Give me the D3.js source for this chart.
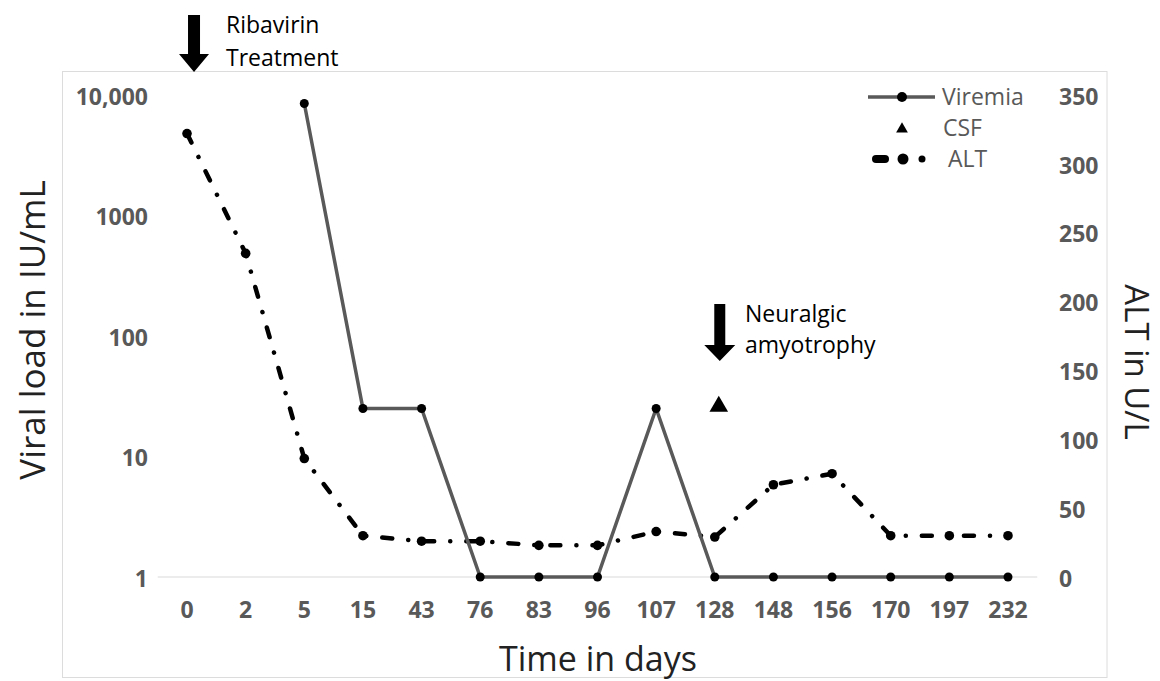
<!DOCTYPE html>
<html>
<head>
<meta charset="utf-8">
<script src="https://cdn.jsdelivr.net/npm/d3@7/dist/d3.min.js"></script>
<style>
  html, body { margin: 0; padding: 0; background: #fff; }
  svg { display: block; }
</style>
</head>
<body>
<svg id="chart" width="1160" height="681"></svg>
<script>
// ---- data ----
const days = ["0","2","5","15","43","76","83","96","107","128","148","156","170","197","232"];
const viremia = [null, null, 8500, 25, 25, 1, 1, 1, 25, 1, 1, 1, 1, 1, 1];
const csf = [null, null, null, null, null, null, null, null, null, 26, null, null, null, null, null];
const alt = [322, 235, 86, 30, 26, 26, 23, 23, 33, 29, 67, 75, 30, 30, 30];
const leftTicks = [1, 10, 100, 1000, 10000];
const leftTickLabels = ["1", "10", "100", "1000", "10,000"];
const rightTicks = [0, 50, 100, 150, 200, 250, 300, 350];

const svg = d3.select("#chart");
const tickFont = "'Open Sans', sans-serif";

// frame
svg.append("rect").attr("x", 62.5).attr("y", 71.5).attr("width", 1044.5).attr("height", 606)
  .attr("fill", "none").attr("stroke", "#dcdcdc").attr("stroke-width", 1);

const x = d3.scaleBand().domain(days).range([157.7, 1037.3]).padding(0);
const cx = d => x(d) + x.bandwidth() / 2;
const yL = d3.scaleLog().domain([1, 10000]).range([577, 95]);
const yR = d3.scaleLinear().domain([0, 350]).range([577, 95]);

// baseline gridline
svg.append("line").attr("x1", x.range()[0]).attr("x2", x.range()[1])
  .attr("y1", yL(1)).attr("y2", yL(1)).attr("stroke", "#d9d9d9").attr("stroke-width", 1.2);

// left axis
const axL = d3.axisLeft(yL).tickValues(leftTicks).tickSize(0).tickPadding(0)
  .tickFormat((d, i) => leftTickLabels[i]);
const gL = svg.append("g").attr("transform", "translate(148,0)").call(axL);
gL.select(".domain").remove();
gL.selectAll("text").attr("font-family", tickFont).attr("font-weight", "bold")
  .attr("font-size", 23).attr("fill", "#595959").attr("dy", "0.4em");

// right axis
const axR = d3.axisRight(yR).tickValues(rightTicks).tickSize(0).tickPadding(0);
const gR = svg.append("g").attr("transform", "translate(1059,0)").call(axR);
gR.select(".domain").remove();
gR.selectAll("text").attr("font-family", tickFont).attr("font-weight", "bold")
  .attr("font-size", 23).attr("fill", "#595959").attr("dy", "0.4em");

// bottom axis
const axB = d3.axisBottom(x).tickSize(0).tickPadding(0);
const gB = svg.append("g").attr("transform", "translate(0,618)").call(axB);
gB.select(".domain").remove();
gB.selectAll("text").attr("font-family", tickFont).attr("font-weight", "bold")
  .attr("font-size", 23).attr("fill", "#595959").attr("dy", 0);

// axis titles
svg.append("text").attr("transform", "translate(45,330) rotate(-90)")
  .attr("text-anchor", "middle").attr("font-family", tickFont).attr("font-size", 35)
  .attr("fill", "#222").text("Viral load in IU/mL");
svg.append("text").attr("x", 598).attr("y", 671)
  .attr("text-anchor", "middle").attr("font-family", tickFont).attr("font-size", 34)
  .attr("fill", "#222").text("Time in days");
svg.append("text").attr("transform", "translate(1125,362) rotate(90)")
  .attr("text-anchor", "middle").attr("font-family", tickFont).attr("font-size", 33)
  .attr("fill", "#222").text("ALT in U/L");

// ALT series (right axis)
const altData = days.map((d, i) => ({d, v: alt[i]}));
svg.append("path").datum(altData)
  .attr("d", d3.line().x(p => cx(p.d)).y(p => yR(p.v)))
  .attr("fill", "none").attr("stroke", "#000").attr("stroke-width", 4.5)
  .attr("stroke-linecap", "round").attr("stroke-linejoin", "round")
  .attr("stroke-dasharray", "10,16,0.1,16");
svg.append("g").selectAll("circle").data(altData).join("circle")
  .attr("cx", p => cx(p.d)).attr("cy", p => yR(p.v)).attr("r", 4.8).attr("fill", "#000");

// Viremia series (left axis)
const virData = days.map((d, i) => ({d, v: viremia[i]})).filter(p => p.v != null);
svg.append("path").datum(virData)
  .attr("d", d3.line().x(p => cx(p.d)).y(p => yL(p.v)))
  .attr("fill", "none").attr("stroke", "#595959").attr("stroke-width", 3.5)
  .attr("stroke-linejoin", "round");
svg.append("g").selectAll("circle").data(virData).join("circle")
  .attr("cx", p => cx(p.d)).attr("cy", p => yL(p.v)).attr("r", 4.5).attr("fill", "#000");

// CSF series (left axis)
const csfData = days.map((d, i) => ({d, v: csf[i]})).filter(p => p.v != null);
const tri = d3.symbol().type(d3.symbolTriangle).size(150);
svg.append("g").selectAll("path").data(csfData).join("path")
  .attr("d", tri).attr("transform", p => `translate(${cx(p.d) + 4},${yL(p.v)})`)
  .attr("fill", "#000");

// annotation arrows
function blockArrow(xc, yTop, yHeadStart, yTip, shaftW, headW) {
  const p = d3.path();
  p.moveTo(xc - shaftW / 2, yTop);
  p.lineTo(xc + shaftW / 2, yTop);
  p.lineTo(xc + shaftW / 2, yHeadStart);
  p.lineTo(xc + headW / 2, yHeadStart);
  p.lineTo(xc, yTip);
  p.lineTo(xc - headW / 2, yHeadStart);
  p.lineTo(xc - shaftW / 2, yHeadStart);
  p.closePath();
  svg.append("path").attr("d", p.toString()).attr("fill", "#000");
}
const annFont = "'Open Sans', sans-serif";
blockArrow(cx("0") + 7, 15, 54, 72, 12, 30);
svg.append("text").attr("x", 226).attr("y", 33).attr("font-family", annFont)
  .attr("font-size", 23).attr("fill", "#000").text("Ribavirin");
svg.append("text").attr("x", 226).attr("y", 66).attr("font-family", annFont)
  .attr("font-size", 23).attr("fill", "#000").text("Treatment");

blockArrow(cx("128") + 5, 304, 345, 361, 11, 31);
svg.append("text").attr("x", 745).attr("y", 322).attr("font-family", annFont)
  .attr("font-size", 23).attr("fill", "#000").text("Neuralgic");
svg.append("text").attr("x", 745).attr("y", 353).attr("font-family", annFont)
  .attr("font-size", 23).attr("fill", "#000").text("amyotrophy");

// legend
const lg = svg.append("g");
lg.append("line").attr("x1", 868).attr("x2", 935).attr("y1", 97).attr("y2", 97)
  .attr("stroke", "#595959").attr("stroke-width", 3.5);
lg.append("circle").attr("cx", 902).attr("cy", 97).attr("r", 5).attr("fill", "#000");
lg.append("text").attr("x", 942).attr("y", 97).attr("dy", "0.36em").attr("font-family", annFont)
  .attr("font-size", 23).attr("fill", "#595959").text("Viremia");
lg.append("path").attr("d", d3.symbol().type(d3.symbolTriangle).size(60))
  .attr("transform", "translate(902,129)").attr("fill", "#000");
lg.append("text").attr("x", 943).attr("y", 128).attr("dy", "0.36em").attr("font-family", annFont)
  .attr("font-size", 23).attr("fill", "#595959").text("CSF");
lg.append("line").attr("x1", 876).attr("x2", 885).attr("y1", 159).attr("y2", 159)
  .attr("stroke", "#000").attr("stroke-width", 8).attr("stroke-linecap", "round");
lg.append("circle").attr("cx", 903).attr("cy", 159).attr("r", 5.5).attr("fill", "#000");
lg.append("circle").attr("cx", 922).attr("cy", 159).attr("r", 3.5).attr("fill", "#000");
lg.append("text").attr("x", 948).attr("y", 159).attr("dy", "0.36em").attr("font-family", annFont)
  .attr("font-size", 23).attr("fill", "#595959").text("ALT");
</script>
</body>
</html>
